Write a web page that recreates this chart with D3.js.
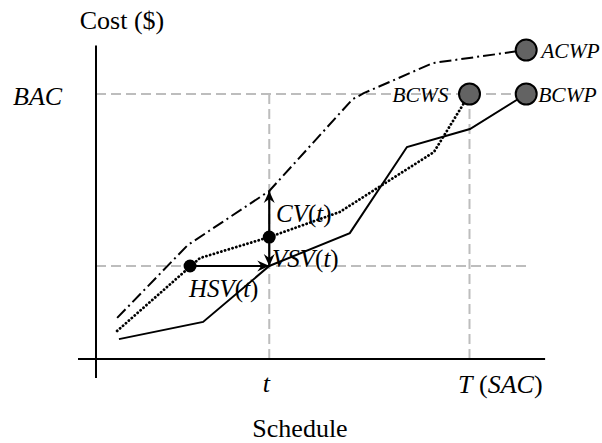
<!DOCTYPE html>
<html>
<head>
<meta charset="utf-8">
<script src="https://cdn.jsdelivr.net/npm/d3@7"></script>
<style>
  html, body { margin: 0; padding: 0; background: #fff; }
  svg { display: block; }
</style>
</head>
<body>
<svg id="chart" width="602" height="443"></svg>
<script>
// ---- Data (schedule units on x, cost units on y; BAC = 100) ----
const timeMarks = [38.5, 83];          // t, T (SAC)
const timeLabels = ["t", "T", "SAC"];
const bacValue = 100;
const bcwsPoints = [[4.7, 10.6], [23.1, 38.1], [38.5, 46.0], [54.2, 55.5], [75.1, 78.1], [83, 100]];
const bcwpPoints = [[5.1, 7.5], [23.8, 14.0], [38.5, 35.1], [56.4, 47.5], [69.1, 80.0], [83.1, 86.8], [95.6, 100]];
const acwpPoints = [[4.7, 15.5], [20.4, 43.0], [38.5, 63.4], [57.0, 98.0], [59.5, 100.3], [74.9, 111.7], [95.6, 116.6]];
const seriesNames = ["BCWS", "BCWP", "ACWP"];
const hsvStart = [20.9, 35.1];          // point on BCWS with value BCWP(t)

// ---- Scales ----
const svg = d3.select("#chart");
const x = d3.scaleLinear().domain([0, 100]).range([96, 546]);
const y = d3.scaleLinear().domain([0, 100]).range([359, 94]);
const line = d3.line().x(d => x(d[0])).y(d => y(d[1]));

const tVal = timeMarks[0], TVal = timeMarks[1];
const bcwpAtT = bcwpPoints[2][1], bcwsAtT = bcwsPoints[2][1], acwpAtT = acwpPoints[2][1];

function txt(xp, yp, size) {
  return svg.append("text").attr("x", xp).attr("y", yp)
    .style("font-family", '"Liberation Serif"').style("font-size", size + "px").attr("fill", "#000");
}

// arrow marker
svg.append("defs").append("marker")
  .attr("id", "arr").attr("viewBox", "0 0 12 12")
  .attr("refX", 12).attr("refY", 6)
  .attr("markerWidth", 12).attr("markerHeight", 12)
  .attr("markerUnits", "userSpaceOnUse").attr("orient", "auto")
  .append("path").attr("d", "M0,0.5 L12,6 L0,11.5 L4,6 Z").attr("fill", "#000");

// ---- Gray dashed guides ----
const guide = svg.append("g").attr("stroke", "#bdbdbd").attr("stroke-width", 2)
  .attr("stroke-dasharray", "10,5").attr("fill", "none");
guide.append("line").attr("x1", x(0)).attr("x2", x(95.6)).attr("y1", y(bacValue)).attr("y2", y(bacValue));
guide.append("line").attr("x1", x(0)).attr("x2", x(95.6)).attr("y1", y(bcwpAtT)).attr("y2", y(bcwpAtT));
guide.append("line").attr("x1", x(tVal)).attr("x2", x(tVal)).attr("y1", y(bacValue)).attr("y2", y(0));
guide.append("line").attr("x1", x(TVal)).attr("x2", x(TVal)).attr("y1", y(bacValue)).attr("y2", y(0));

// ---- Axes ----
const axes = svg.append("g").attr("stroke", "#000").attr("stroke-width", 2);
axes.append("line").attr("x1", x(0)).attr("x2", x(0)).attr("y1", y(-7.2)).attr("y2", y(118.3));
axes.append("line").attr("x1", x(-4)).attr("x2", x(99.8)).attr("y1", y(0)).attr("y2", y(0));

// ---- Series ----
svg.append("path").datum(bcwpPoints).attr("d", line)
  .attr("fill", "none").attr("stroke", "#000").attr("stroke-width", 2);
svg.append("path").datum(bcwsPoints).attr("d", line)
  .attr("fill", "none").attr("stroke", "#000").attr("stroke-width", 2.8)
  .attr("stroke-dasharray", "0.1,3.8").attr("stroke-linecap", "round");
svg.append("path").datum(acwpPoints).attr("d", line)
  .attr("fill", "none").attr("stroke", "#000").attr("stroke-width", 2)
  .attr("stroke-dasharray", "12,4,2,4").attr("stroke-linejoin", "round");

// ---- Arrows ----
const arr = svg.append("g").attr("stroke", "#000").attr("stroke-width", 2.2);
arr.append("line").attr("x1", x(tVal)).attr("y1", y(bcwsAtT)).attr("x2", x(tVal)).attr("y2", y(acwpAtT))
  .attr("marker-end", "url(#arr)");
arr.append("line").attr("x1", x(tVal)).attr("y1", y(bcwsAtT)).attr("x2", x(tVal)).attr("y2", y(bcwpAtT))
  .attr("marker-end", "url(#arr)");
arr.append("line").attr("x1", x(hsvStart[0])).attr("y1", y(hsvStart[1])).attr("x2", x(tVal)).attr("y2", y(bcwpAtT))
  .attr("marker-end", "url(#arr)");

// dots
svg.selectAll("circle.dot").data([hsvStart, [tVal, bcwsAtT]]).join("circle").attr("class", "dot")
  .attr("cx", d => x(d[0])).attr("cy", d => y(d[1])).attr("r", 6.5).attr("fill", "#000");

// end circles
const ends = [bcwsPoints[bcwsPoints.length - 1], bcwpPoints[bcwpPoints.length - 1], acwpPoints[acwpPoints.length - 1]];
svg.selectAll("circle.end").data(ends).join("circle").attr("class", "end")
  .attr("cx", d => x(d[0])).attr("cy", d => y(d[1])).attr("r", 10.5)
  .attr("fill", "#636363").attr("stroke", "#000").attr("stroke-width", 2);

// ---- Labels ----
txt(122, 29, 26).attr("text-anchor", "middle").text("Cost ($)");
txt(13, 105, 26).style("font-style", "italic").text("BAC");
txt(x(ends[2][0]) + 15, y(ends[2][1]) + 8, 21.5).style("font-style", "italic").text(seriesNames[2]);
txt(x(ends[1][0]) + 12, y(ends[1][1]) + 8, 21.5).style("font-style", "italic").text(seriesNames[1]);
txt(x(ends[0][0]) - 21, y(ends[0][1]) + 8, 21.5).attr("text-anchor", "end").style("font-style", "italic").text(seriesNames[0]);

function varLabel(xp, yp, name) {
  const t = txt(xp, yp, 25);
  t.append("tspan").style("font-style", "italic").text(name);
  t.append("tspan").text("(");
  t.append("tspan").style("font-style", "italic").text("t");
  t.append("tspan").text(")");
}
varLabel(276, 222, "CV");
varLabel(272, 267, "VSV");
varLabel(189, 297, "HSV");

txt(x(tVal) - 3, 392, 26).attr("text-anchor", "middle").style("font-style", "italic").text(timeLabels[0]);
const tl = txt(458, 393, 26);
tl.append("tspan").style("font-style", "italic").text(timeLabels[1]);
tl.append("tspan").text(" (");
tl.append("tspan").style("font-style", "italic").text(timeLabels[2]);
tl.append("tspan").text(")");

txt(300, 437, 26).attr("text-anchor", "middle").text("Schedule");
</script>
</body>
</html>
